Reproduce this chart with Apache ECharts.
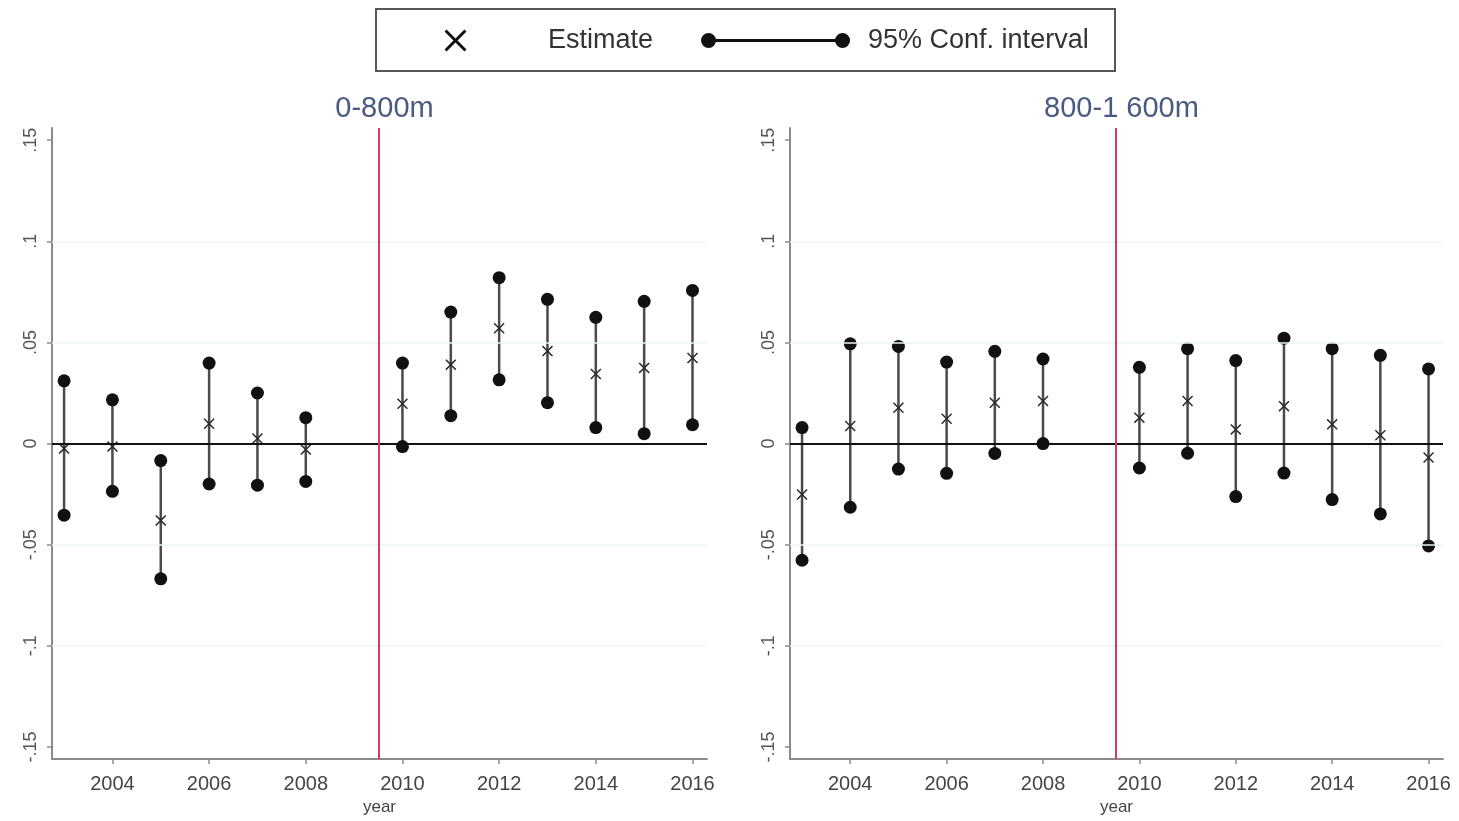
<!DOCTYPE html>
<html>
<head>
<meta charset="utf-8">
<title>Event-study estimates by distance band</title>
<script src="https://cdn.jsdelivr.net/npm/echarts@6/dist/echarts.min.js"></script>
<style>
  html, body { margin: 0; padding: 0; background: #ffffff; }
  #chart { width: 1459px; height: 821px; }
</style>
</head>
<body>
<div id="chart"></div>
<script>
// ---- data -------------------------------------------------------------
const years = [2003, 2004, 2005, 2006, 2007, 2008, 2010, 2011, 2012, 2013, 2014, 2015, 2016];

// 0-800m band
const nearEstimate = [-0.0025, -0.0015, -0.038, 0.0098, 0.0025, -0.003, 0.0197, 0.039, 0.057, 0.0457, 0.0344, 0.0374, 0.0423];
const nearLower    = [-0.0354, -0.0236, -0.0669, -0.020, -0.0206, -0.0187, -0.0015, 0.0138, 0.0315, 0.0202, 0.0079, 0.0049, 0.0093];
const nearUpper    = [0.031, 0.0216, -0.0084, 0.0398, 0.025, 0.0128, 0.0398, 0.065, 0.082, 0.0713, 0.0624, 0.0703, 0.0757];

// 800-1 600m band
const farEstimate = [-0.0252, 0.0087, 0.0177, 0.0123, 0.0202, 0.021, 0.0128, 0.021, 0.007, 0.0185, 0.0095, 0.0041, -0.0069];
const farLower    = [-0.0577, -0.0315, -0.0126, -0.0147, -0.0049, 0.0, -0.0121, -0.0048, -0.0262, -0.0146, -0.0277, -0.0348, -0.0506];
const farUpper    = [0.0079, 0.0493, 0.048, 0.0403, 0.0456, 0.0418, 0.0377, 0.0469, 0.041, 0.0521, 0.0469, 0.0436, 0.0369];

const panelTitles = ['0-800m', '800-1 600m'];
const xTickValues = [2004, 2006, 2008, 2010, 2012, 2014, 2016];
const yTickValues = [-0.15, -0.1, -0.05, 0, 0.05, 0.1, 0.15];
const yTickLabels = ['-.15', '-.1', '-.05', '0', '.05', '.1', '.15'];
const gridValues  = [-0.1, -0.05, 0.05, 0.1];
const treatmentBreak = 2009.5;
const legendNames = ['Estimate', '95% Conf. interval'];

// ---- styling / layout -------------------------------------------------
const FONT = '"Liberation Sans", Arial, sans-serif';
const panels = [
  { left: 52, width: 655, est: nearEstimate, lo: nearLower, hi: nearUpper },
  { left: 790, width: 653, est: farEstimate, lo: farLower, hi: farUpper }
];
const GRID_TOP = 128, GRID_H = 634;

// filled "x" marker (20x20 box)
const d = 1.9;
const X_PATH = 'path://M0,' + d + ' L' + d + ',0 L10,' + (10 - d) + ' L' + (20 - d) + ',0 L20,' + d +
  ' L' + (10 + d) + ',10 L20,' + (20 - d) + ' L' + (20 - d) + ',20 L10,' + (10 + d) +
  ' L' + d + ',20 L0,' + (20 - d) + ' L' + (10 - d) + ',10 Z';
// dot - line - dot key (149 x 22 box)
const CI_PATH = 'path://M0,0 M149,22 ' +
  'M0,11 A7.5,7.5 0 1,1 15,11 A7.5,7.5 0 1,1 0,11 Z ' +
  'M14,9.6 L135,9.6 L135,12.4 L14,12.4 Z ' +
  'M134,11 A7.5,7.5 0 1,1 149,11 A7.5,7.5 0 1,1 134,11 Z';

function yLabel(v) {
  for (let i = 0; i < yTickValues.length; i++) {
    if (Math.abs(yTickValues[i] - v) < 1e-6) return yTickLabels[i];
  }
  return '';
}

const grids = [], xAxes = [], yAxes = [], series = [], titles = [];

panels.forEach(function (p, i) {
  grids.push({ left: p.left, top: GRID_TOP, width: p.width, height: GRID_H, containLabel: false });

  xAxes.push({
    type: 'value', gridIndex: i, min: 2002.75, max: 2016.3,
    name: 'year', nameLocation: 'middle', nameGap: 37,
    nameTextStyle: { fontFamily: FONT, fontSize: 17, color: '#444' },
    axisLine: { show: true, onZero: false, lineStyle: { color: '#8a8a8a', width: 2 } },
    axisTick: { show: true, length: 5, customValues: xTickValues, lineStyle: { color: '#8a8a8a', width: 1.5 } },
    axisLabel: { customValues: xTickValues, fontFamily: FONT, fontSize: 20, color: '#444', margin: 15, formatter: function (v) { return String(v); } },
    splitLine: { show: false }
  });

  yAxes.push({
    type: 'value', gridIndex: i, min: -0.156, max: 0.156,
    axisLine: { show: true, lineStyle: { color: '#8a8a8a', width: 2 } },
    axisTick: { show: true, length: 5, customValues: yTickValues, lineStyle: { color: '#8a8a8a', width: 1.5 } },
    axisLabel: { customValues: yTickValues, rotate: 90, fontFamily: FONT, fontSize: 18, color: '#555', margin: 12, formatter: yLabel },
    splitLine: { show: false }
  });

  titles.push({
    text: panelTitles[i], left: p.left + p.width / 2, top: 89, textAlign: 'center',
    textStyle: { fontFamily: FONT, fontSize: 29, fontWeight: 'normal', color: '#4b5a80' }
  });

  // reference lines: light grid, zero line, treatment break
  series.push({
    type: 'line', name: 'refs' + i, xAxisIndex: i, yAxisIndex: i, data: [], z: 1, silent: true,
    markLine: {
      silent: true, symbol: 'none', label: { show: false }, animation: false,
      data: gridValues.map(function (v) {
        return { yAxis: v, lineStyle: { color: '#eef3f3', width: 1.5, type: 'solid' } };
      }).concat([
        { yAxis: 0, lineStyle: { color: '#111', width: 2, type: 'solid' } },
        { xAxis: treatmentBreak, lineStyle: { color: '#d83a64', width: 2, type: 'solid' } }
      ])
    }
  });

  // confidence intervals: vertical bar capped by two dots
  series.push({
    type: 'custom', name: legendNames[1], xAxisIndex: i, yAxisIndex: i, z: 3,
    itemStyle: { color: '#111' },
    encode: { x: 0, y: [1, 2] },
    data: years.map(function (yr, k) { return [yr, p.lo[k], p.hi[k]]; }),
    renderItem: function (params, api) {
      const x = api.value(0);
      const a = api.coord([x, api.value(1)]);
      const b = api.coord([x, api.value(2)]);
      return {
        type: 'group',
        children: [
          { type: 'line', shape: { x1: a[0], y1: a[1], x2: b[0], y2: b[1] }, style: { stroke: '#4a4a4a', lineWidth: 2.5 } },
          { type: 'circle', shape: { cx: a[0], cy: a[1], r: 6.5 }, style: { fill: '#111' } },
          { type: 'circle', shape: { cx: b[0], cy: b[1], r: 6.5 }, style: { fill: '#111' } }
        ]
      };
    }
  });

  // point estimates
  series.push({
    type: 'scatter', name: legendNames[0], xAxisIndex: i, yAxisIndex: i, z: 4,
    symbol: X_PATH, symbolSize: 11,
    itemStyle: { color: '#2a2a2a', opacity: 1 },
    data: years.map(function (yr, k) { return [yr, p.est[k]]; })
  });
});

const chart = echarts.init(document.getElementById('chart'), null, { renderer: 'canvas' });
chart.setOption({
  animation: false,
  backgroundColor: '#ffffff',
  title: titles,
  legend: {
    left: 439.5, top: 22, orient: 'horizontal', align: 'left',
    itemWidth: 149, itemHeight: 22, itemGap: 48, symbolKeepAspect: true,
    selectedMode: false,
    data: [
      { name: legendNames[0], icon: X_PATH },
      { name: legendNames[1], icon: CI_PATH }
    ],
    itemStyle: { color: '#111', borderWidth: 0 },
    textStyle: { fontFamily: FONT, fontSize: 27, color: '#333', padding: [0, 0, 0, 13] }
  },
  graphic: [{
    type: 'rect', left: 375, top: 8, z: -1,
    shape: { width: 739, height: 62 },
    style: { fill: '#ffffff', stroke: '#555', lineWidth: 2 }
  }],
  grid: grids,
  xAxis: xAxes,
  yAxis: yAxes,
  series: series
});
</script>
</body>
</html>
